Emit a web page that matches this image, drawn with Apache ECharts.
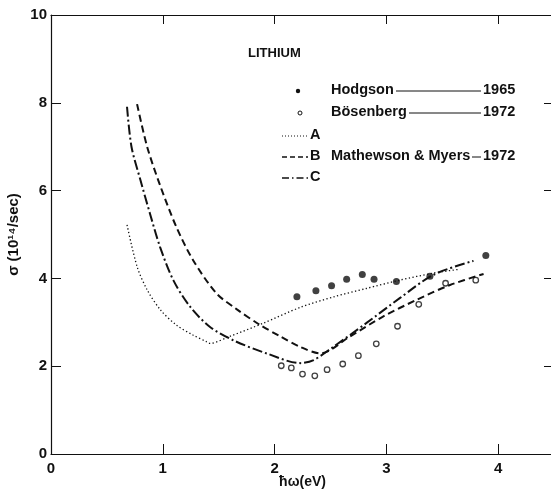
<!DOCTYPE html>
<html>
<head>
<meta charset="utf-8">
<script src="https://cdn.jsdelivr.net/npm/echarts@6/dist/echarts.min.js"></script>
<style>
  html, body { margin: 0; padding: 0; background: #fff; }
  #chart { width: 551px; height: 493px; }
</style>
</head>
<body>
<div id="chart"></div>
<script>
// Lithium: optical relaxation rate sigma versus photon energy
const xTicks = [0, 1, 2, 3, 4];
const yTicks = [0, 2, 4, 6, 8, 10];

// Hodgson 1965 (filled circles)
const hodgsonX = [2.2, 2.37, 2.51, 2.645, 2.785, 2.89, 3.09, 3.39, 3.89];
const hodgsonY = [3.58, 3.72, 3.83, 3.98, 4.09, 3.98, 3.93, 4.05, 4.52];

// Bösenberg 1972 (open circles)
const bosenbergX = [2.06, 2.15, 2.25, 2.36, 2.47, 2.61, 2.75, 2.91, 3.1, 3.29, 3.53, 3.8];
const bosenbergY = [2.01, 1.96, 1.82, 1.78, 1.92, 2.05, 2.24, 2.51, 2.91, 3.41, 3.89, 3.96];

// Curve A (dotted)
const curveAX = [0.68, 0.77, 0.86, 0.98, 1.12, 1.27, 1.39, 1.42, 1.6, 1.9, 2.23, 2.53, 2.82, 3.12, 3.42, 3.66];
const curveAY = [5.22, 4.27, 3.74, 3.28, 2.94, 2.71, 2.56, 2.52, 2.68, 2.98, 3.34, 3.58, 3.77, 3.96, 4.12, 4.21];

// Curve B (dashed), Mathewson & Myers 1972
const curveBX = [0.77, 0.86, 0.98, 1.12, 1.27, 1.48, 1.66, 1.87, 2.05, 2.23, 2.41, 2.67, 2.97, 3.27, 3.57, 3.87];
const curveBY = [7.97, 7.0, 6.09, 5.18, 4.42, 3.66, 3.3, 2.94, 2.68, 2.44, 2.29, 2.67, 3.13, 3.51, 3.85, 4.1];

// Curve C (dash-dot)
const curveCX = [0.68, 0.72, 0.8, 0.885, 0.975, 1.094, 1.243, 1.42, 1.64, 1.93, 2.23, 2.35, 2.525, 2.82, 3.12, 3.42, 3.78];
const curveCY = [7.91, 7.0, 6.24, 5.48, 4.72, 3.96, 3.36, 2.9, 2.58, 2.29, 2.07, 2.14, 2.44, 2.98, 3.55, 4.08, 4.4];

const pairs = (xs, ys) => xs.map((x, i) => [x, ys[i]]);

const FONT = 'Liberation Sans';
const INK = '#111';

const chart = echarts.init(document.getElementById('chart'), null, { renderer: 'canvas' });

const axisBase = {
  type: 'value',
  min: 0,
  interval: 1,
  axisLine: { show: true, onZero: false, lineStyle: { color: INK, width: 1.2 } },
  splitLine: { show: false }
};

const legendRows = [
  { y: 91 }, { y: 113 }, { y: 136 }, { y: 157 }, { y: 178 }
];

function txt(x, y, s, size) {
  return {
    type: 'text', left: x, top: y - (size || 14.5) / 2 - 1,
    style: { text: s, fill: INK, font: 'bold ' + (size || 14.5) + 'px "' + FONT + '"' }
  };
}
function seg(x1, x2, y, dash, w) {
  return {
    type: 'line', shape: { x1: x1, y1: y, x2: x2, y2: y },
    style: { stroke: INK, lineWidth: w, lineDash: dash }
  };
}

chart.setOption({
  animation: false,
  backgroundColor: '#fff',
  grid: { left: 51, right: -3, top: 15, bottom: 39, containLabel: false, outerBoundsMode: 'none' },
  xAxis: [
    Object.assign({}, axisBase, {
      max: 4.5,
      position: 'bottom',
      name: 'ħω(eV)',
      nameLocation: 'middle',
      nameMoveOverlap: false,
      nameGap: 21,
      nameTextStyle: { color: INK, fontFamily: FONT, fontWeight: 'bold', fontSize: 14 },
      axisTick: { show: true, inside: true, length: 10, lineStyle: { color: INK } },
      axisLabel: {
        color: INK, fontFamily: FONT, fontWeight: 'bold', fontSize: 15, margin: 7,
        showMaxLabel: false,
        formatter: v => (xTicks.indexOf(v) >= 0 ? String(v) : '')
      }
    }),
    Object.assign({}, axisBase, {
      max: 4.5,
      position: 'top',
      axisTick: { show: true, inside: true, length: 9, lineStyle: { color: INK } },
      axisLabel: { show: false }
    })
  ],
  yAxis: [
    Object.assign({}, axisBase, {
      max: 10,
      interval: 2,
      position: 'left',
      name: 'σ (10¹⁴/sec)',
      nameLocation: 'middle',
      nameMoveOverlap: false,
      nameGap: 30,
      nameTextStyle: { color: INK, fontFamily: FONT, fontWeight: 'bold', fontSize: 15 },
      axisTick: { show: true, inside: true, length: 10, lineStyle: { color: INK } },
      axisLabel: {
        color: INK, fontFamily: FONT, fontWeight: 'bold', fontSize: 15, margin: 4,
        formatter: v => (yTicks.indexOf(v) >= 0 ? String(v) : '')
      }
    }),
    Object.assign({}, axisBase, {
      max: 10,
      interval: 2,
      position: 'right',
      axisTick: { show: true, inside: true, length: 10, lineStyle: { color: INK } },
      axisLabel: { show: false }
    })
  ],
  series: [
    {
      name: 'A', type: 'line', data: pairs(curveAX, curveAY), smooth: 0.3,
      showSymbol: false, lineStyle: { color: INK, width: 1.3, type: [1.3, 2.4] }
    },
    {
      name: 'B', type: 'line', data: pairs(curveBX, curveBY), smooth: 0.3,
      showSymbol: false, lineStyle: { color: INK, width: 2, type: [7, 4] }
    },
    {
      name: 'C', type: 'line', data: pairs(curveCX, curveCY), smooth: 0.3,
      showSymbol: false, lineStyle: { color: INK, width: 2, type: [10, 3, 2, 3] }
    },
    {
      name: 'Hodgson', type: 'scatter', data: pairs(hodgsonX, hodgsonY),
      symbol: 'circle', symbolSize: 7, itemStyle: { color: INK }
    },
    {
      name: 'Bösenberg', type: 'scatter', data: pairs(bosenbergX, bosenbergY),
      symbol: 'circle', symbolSize: 5.5,
      itemStyle: { color: '#fff', borderColor: INK, borderWidth: 1.3 }
    }
  ],
  graphic: [
    txt(248, 54, 'LITHIUM', 13),
    // Hodgson row
    { type: 'circle', shape: { cx: 298, cy: legendRows[0].y, r: 2.2 }, style: { fill: INK } },
    txt(331, legendRows[0].y, 'Hodgson'),
    seg(396, 481, legendRows[0].y, null, 1),
    txt(483, legendRows[0].y, '1965'),
    // Bösenberg row
    { type: 'circle', shape: { cx: 300, cy: legendRows[1].y, r: 2 }, style: { fill: '#fff', stroke: INK, lineWidth: 1 } },
    txt(331, legendRows[1].y, 'Bösenberg'),
    seg(409, 481, legendRows[1].y, null, 1),
    txt(483, legendRows[1].y, '1972'),
    // A
    seg(282, 308, legendRows[2].y, [1, 2], 1),
    txt(310, legendRows[2].y, 'A'),
    // B
    seg(282, 308, legendRows[3].y, [5, 3], 1.5),
    txt(310, legendRows[3].y, 'B'),
    txt(331, legendRows[3].y, 'Mathewson & Myers'),
    seg(472, 481, legendRows[3].y, null, 1),
    txt(483, legendRows[3].y, '1972'),
    // C
    seg(282, 308, legendRows[4].y, [7, 3, 1.5, 3], 1.5),
    txt(310, legendRows[4].y, 'C')
  ]
});
</script>
</body>
</html>
